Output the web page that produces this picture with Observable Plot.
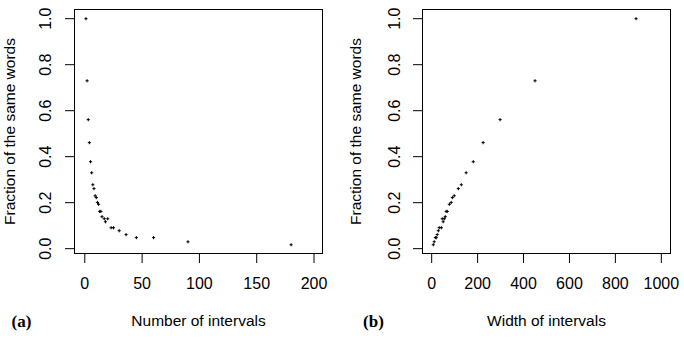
<!DOCTYPE html>
<html>
<head>
<meta charset="utf-8">
<script src="https://cdn.jsdelivr.net/npm/d3@7"></script>
<script src="https://cdn.jsdelivr.net/npm/@observablehq/plot@0.6"></script>
<style>
  html, body { margin: 0; padding: 0; background: white; }
  #chart { display: flex; width: 684px; height: 338px; }
  #chart svg { display: block; }
</style>
</head>
<body>
<div id="chart"></div>
<script>
// Panel (a): number of intervals vs fraction of the same words
const intervalCount = [1, 2, 3, 4, 5, 6, 7, 8, 9, 10, 11, 12, 13, 14, 15, 17, 18, 20, 23, 25, 30, 36, 45, 60, 90, 180];
// Panel (b): width of intervals
const intervalWidth = [890, 450, 298, 224, 181, 150, 129, 116, 98, 90, 85, 77, 68, 63, 59, 55, 50, 46, 42, 33, 29, 24, 20, 16, 11, 7];
// Shared y values
const fractionSame = [1.0, 0.73, 0.561, 0.461, 0.378, 0.330, 0.278, 0.261, 0.230, 0.222, 0.201, 0.193, 0.162, 0.162, 0.139, 0.130, 0.117, 0.130, 0.091, 0.091, 0.078, 0.061, 0.048, 0.048, 0.030, 0.017];

const yTicks = [0.0, 0.2, 0.4, 0.6, 0.8, 1.0];
const xTicksA = [0, 50, 100, 150, 200];
const xTicksB = [0, 200, 400, 600, 800, 1000];
const yLabel = "Fraction of the same words";

function panel({xs, xDomain, xTicks, xLabel, tag, marginLeft, marginRight, yLabelDx, yTickDx, tagDx}) {
  const data = xs.map((x, i) => ({x, y: fractionSame[i]}));
  const yDomain = [-0.021, 1.040];
  return Plot.plot({
    width: 342,
    height: 338,
    marginLeft,
    marginRight,
    marginTop: 9,
    marginBottom: 85,
    x: {domain: xDomain, axis: null},
    y: {domain: yDomain, axis: null},
    style: {fontFamily: "'Liberation Sans', Arial, sans-serif", background: "white", color: "black"},
    marks: [
      Plot.frame({stroke: "black", strokeWidth: 1}),
      // y ticks (outside, left)
      Plot.ruleY(yTicks, {y: d => d, x1: xDomain[0], x2: xDomain[0], insetLeft: -9, stroke: "black"}),
      // x ticks (outside, bottom)
      Plot.ruleX(xTicks, {x: d => d, y1: yDomain[0], y2: yDomain[0], insetBottom: -10, stroke: "black"}),
      // y tick labels, rotated
      Plot.text(yTicks, {y: d => d, text: d => d.toFixed(1), frameAnchor: "left", rotate: -90, dx: yTickDx, fontSize: 16, lineAnchor: "middle", textAnchor: "middle", fill: "black"}),
      // x tick labels
      Plot.text(xTicks, {x: d => d, text: d => String(d), frameAnchor: "bottom", dy: 30, fontSize: 16, lineAnchor: "middle", textAnchor: "middle", fill: "black"}),
      // y axis label
      Plot.text([yLabel], {text: d => d, frameAnchor: "left", rotate: -90, dx: yLabelDx, fontSize: 15.5, lineAnchor: "middle", textAnchor: "middle", fill: "black"}),
      // x axis label
      Plot.text([xLabel], {text: d => d, frameAnchor: "bottom", dy: 68, fontSize: 15.5, lineAnchor: "middle", textAnchor: "middle", fill: "black"}),
      // panel tag
      Plot.text([tag], {text: d => d, frameAnchor: "bottom-left", dx: tagDx, dy: 68, fontSize: 17, fontWeight: "bold", fontFamily: "'Liberation Serif', 'Times New Roman', serif", lineAnchor: "middle", textAnchor: "middle", fill: "black"}),
      // points
      Plot.dot(data, {x: "x", y: "y", symbol: "plus", r: 1.1, stroke: "black", strokeWidth: 1})
    ]
  });
}

const chart = document.getElementById("chart");
chart.appendChild(panel({
  xs: intervalCount, xDomain: [-9, 207.4], xTicks: xTicksA, xLabel: "Number of intervals", tag: "(a)",
  marginLeft: 74, marginRight: 20, yLabelDx: -64.5, yTickDx: -28.5, tagDx: -53
}));
chart.appendChild(panel({
  xs: intervalWidth, xDomain: [-40, 1040], xTicks: xTicksB, xLabel: "Width of intervals", tag: "(b)",
  marginLeft: 80, marginRight: 14, yLabelDx: -66, yTickDx: -27.5, tagDx: -49
}));
</script>
</body>
</html>
